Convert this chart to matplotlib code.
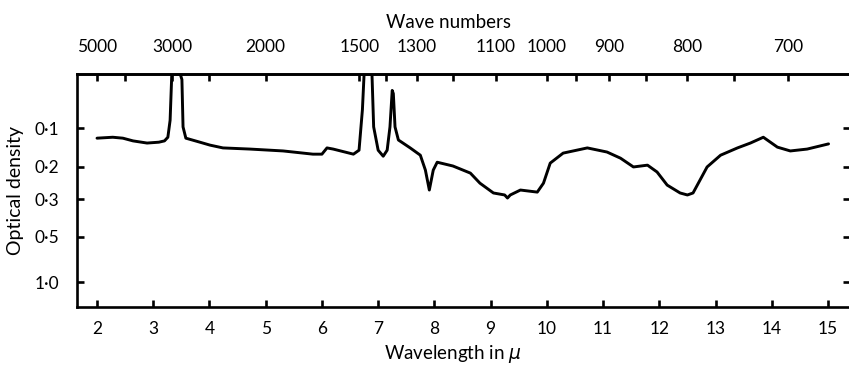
import numpy as np
import matplotlib
matplotlib.use("Agg")
import matplotlib.pyplot as plt
from matplotlib.ticker import FixedLocator, FixedFormatter, NullFormatter, NullLocator

plt.rcParams['font.family'] = ['Lato', 'DejaVu Sans']

# Spectrum (wavelength in micron, optical density)
wavelength = [2.00, 2.28, 2.46, 2.64, 2.89, 3.10, 3.20, 3.26, 3.30, 3.33, 3.48, 3.51, 3.53,
              3.58, 3.83, 4.01, 4.24, 4.72, 5.31, 5.84, 6.00, 6.09, 6.20, 6.56, 6.66, 6.72,
              6.75, 6.89, 6.92, 7.00, 7.09, 7.16, 7.21, 7.25, 7.27, 7.30, 7.36, 7.57, 7.75,
              7.84, 7.91, 7.98, 8.05, 8.33, 8.64, 8.81, 9.05, 9.25, 9.30, 9.35, 9.53, 9.83,
              9.94, 10.06, 10.29, 10.72, 11.07, 11.31, 11.54, 11.79, 11.96, 12.14, 12.37,
              12.50, 12.60, 12.85, 13.09, 13.39, 13.62, 13.85, 14.10, 14.33, 14.63, 15.01]
density = [0.120, 0.118, 0.120, 0.126, 0.131, 0.129, 0.126, 0.118, 0.087, 0.038, 0.038,
           0.042, 0.098, 0.120, 0.129, 0.136, 0.143, 0.146, 0.151, 0.160, 0.160, 0.143,
           0.146, 0.160, 0.149, 0.072, 0.038, 0.038, 0.098, 0.149, 0.166, 0.149, 0.098,
           0.051, 0.054, 0.098, 0.124, 0.143, 0.163, 0.209, 0.268, 0.209, 0.185, 0.198,
           0.217, 0.246, 0.278, 0.285, 0.296, 0.285, 0.268, 0.275, 0.246, 0.188, 0.157,
           0.143, 0.154, 0.172, 0.201, 0.195, 0.214, 0.252, 0.278, 0.285, 0.278, 0.201,
           0.163, 0.143, 0.131, 0.118, 0.141, 0.151, 0.146, 0.133]

od_ticks = [0.1, 0.2, 0.3, 0.5, 1.0]
od_labels = ['0·1', '0·2', '0·3', '0·5', '1·0']
wl_ticks = list(range(2, 16))
wn_major = [5000, 3000, 2000, 1500, 1300, 1100, 1000, 900, 800, 700]
wn_minor = [4000, 2500, 1400, 1200, 950, 850, 750]

# Non-uniform optical-density scale of the chart paper (log OD -> relative position)
scale_log = np.array([-3.0, -1.42, -1.0, -0.699, -0.523, -0.301, 0.0, 0.165, 2.0])
scale_pos = np.array([-129.2, 74.0, 128.0, 166.5, 199.0, 236.5, 282.0, 307.0, 585.0])


def od_forward(d):
    d = np.asarray(d, dtype=float)
    return np.interp(np.log10(np.maximum(d, 1e-12)), scale_log, scale_pos)


def od_inverse(p):
    p = np.asarray(p, dtype=float)
    return 10 ** np.interp(p, scale_pos, scale_log)


W, H = 849, 368
fig = plt.figure(figsize=(W / 100, H / 100), dpi=100)
left, right, top, bottom = 77, 850, 74, 307
ax = fig.add_axes([left / W, 1 - bottom / H, (right - left) / W, (bottom - top) / H])

ax.set_yscale('function', functions=(od_forward, od_inverse))
ax.set_ylim(1.46, 0.038)
ax.set_xlim(2 - 20 / 56.2, 15 + 22 / 56.2)

ax.plot(wavelength, density, color='black', lw=2.1, solid_joinstyle='round',
        solid_capstyle='round')

ax.yaxis.set_major_locator(FixedLocator(od_ticks))
ax.yaxis.set_major_formatter(FixedFormatter(od_labels))
ax.yaxis.set_minor_locator(NullLocator())
ax.set_xticks(wl_ticks)
ax.set_xticklabels([str(t) for t in wl_ticks])
ax.xaxis.set_minor_locator(NullLocator())

for s in ax.spines.values():
    s.set_linewidth(1.9)

ax.tick_params(axis='x', direction='in', length=5, width=1.9, labelsize=12.5, pad=10)
ax.tick_params(axis='y', direction='in', length=5, width=1.9, labelsize=12.5, pad=13,
               right=True)

ax.set_ylabel('Optical density', fontsize=14, labelpad=7)
ax.set_xlabel(r'Wavelength in $\mu$', fontsize=13.5)
ax.xaxis.set_label_coords((453 - left) / (right - left), -0.155)

sec = ax.secondary_xaxis('top', functions=(lambda x: 1e4 / np.asarray(x, dtype=float),
                                           lambda x: 1e4 / np.asarray(x, dtype=float)))
sec.xaxis.set_major_locator(FixedLocator(wn_major))
sec.xaxis.set_major_formatter(FixedFormatter([str(w) for w in wn_major]))
sec.xaxis.set_minor_locator(FixedLocator(wn_minor))
sec.xaxis.set_minor_formatter(NullFormatter())
sec.tick_params(which='both', direction='in', length=5, width=1.9, labelsize=12.5, pad=13.5)
sec.spines['top'].set_linewidth(1.9)

fig.text(448 / W, 1 - 22 / H, 'Wave numbers', fontsize=13.5, ha='center', va='center')

fig.savefig('out.png', dpi=100)
